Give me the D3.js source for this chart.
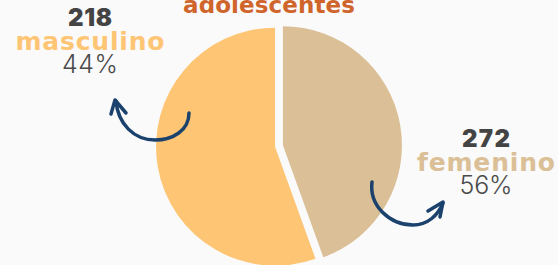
<!DOCTYPE html>
<html>
<head>
<meta charset="utf-8">
<script src="https://cdn.jsdelivr.net/npm/d3@7"></script>
<style>
  body { margin: 0; background: #fafafa; }
  svg { display: block; }
</style>
</head>
<body>
<div id="chart"></div>
<script>
// data
const title = "adolescentes";
const categories = ["masculino", "femenino"];
const counts = [218, 272];
const percents = ["44%", "56%"];
// the picture draws the 44% slice in tan from 12 o'clock, the rest in orange
const sliceValues = [218, 272];
const sliceColors = ["#dbbf96", "#fec574"];
const labelColors = ["#fec574", "#dbbf96"];

const width = 558;
const height = 265;
const cx = 279, cy = 146, r = 119;

const svg = d3.select("#chart")
  .append("svg")
  .attr("width", width)
  .attr("height", height)

svg.append("rect")
  .attr("width", width)
  .attr("height", height)
  .style("fill", "#fafafa")

const pie = d3.pie().sort(null)(sliceValues);
const arc = d3.arc().innerRadius(0).outerRadius(r);

const g = svg.append("g").attr("transform", `translate(${cx},${cy})`);

g.selectAll("path")
  .data(pie)
  .enter()
  .append("path")
  .attr("d", arc)
  .attr("transform", d => {
    const a = (d.startAngle + d.endAngle) / 2;
    return `translate(${4 * Math.sin(a)},${-4 * Math.cos(a)})`;
  })
  .style("fill", (d, i) => sliceColors[i])

const boldFont = "'DejaVu Sans', sans-serif";

// title, cut by top edge
svg.append("text")
  .attr("x", 269)
  .attr("y", 13)
  .attr("text-anchor", "middle")
  .attr("textLength", 172)
  .attr("lengthAdjust", "spacing")
  .style("font-family", boldFont)
  .style("font-weight", 700)
  .style("font-size", "23px")
  .style("fill", "#d0652c")
  .text(title)

// labels
const labelPos = [{ x: 90, y: 26 }, { x: 486, y: 147 }];
const countW = [44, 48], nameW = [149, 138], pctW = [56, 53];

labelPos.forEach((p, i) => {
  svg.append("text")
    .attr("x", p.x).attr("y", p.y)
    .attr("text-anchor", "middle")
    .attr("textLength", countW[i])
    .attr("lengthAdjust", "spacing")
    .style("font-family", "Inter, sans-serif")
    .style("font-weight", 900)
    .style("font-size", "24px")
    .style("fill", "#444444")
    .text(counts[i])
  svg.append("text")
    .attr("x", p.x).attr("y", p.y + 24)
    .attr("text-anchor", "middle")
    .attr("textLength", nameW[i])
    .attr("lengthAdjust", "spacing")
    .style("font-family", boldFont)
    .style("font-weight", 700)
    .style("font-size", "25px")
    .style("fill", labelColors[i])
    .text(categories[i])
  svg.append("text")
    .attr("x", p.x).attr("y", p.y + 47)
    .attr("text-anchor", "middle")
    .attr("textLength", pctW[i])
    .attr("lengthAdjust", "spacing")
    .style("font-family", "Inter, sans-serif")
    .style("font-weight", 300)
    .style("font-size", "25px")
    .style("fill", "#4a4a4a")
    .text(percents[i])
});

// curved arrows
const arrows = [
  { d: "M189,113 C189,131 172,140 155,140 C134,140 118,124 116,101",
    head: "M111,114 L115,100 L126,113" },
  { d: "M372,182 C369,206 390,225 413,225 C428,225 438,215 443,203",
    head: "M428,211 L443,202 L440,217" }
];

svg.selectAll(".arrow")
  .data(arrows)
  .enter()
  .append("g")
  .attr("class", "arrow")
  .each(function (d) {
    const a = d3.select(this);
    a.append("path").attr("d", d.d)
    a.append("path").attr("d", d.head)
  })
  .selectAll("path")
  .style("fill", "none")
  .style("stroke", "#1b416d")
  .style("stroke-width", 3.5)
  .style("stroke-linecap", "round")
  .style("stroke-linejoin", "round")
</script>
</body>
</html>
